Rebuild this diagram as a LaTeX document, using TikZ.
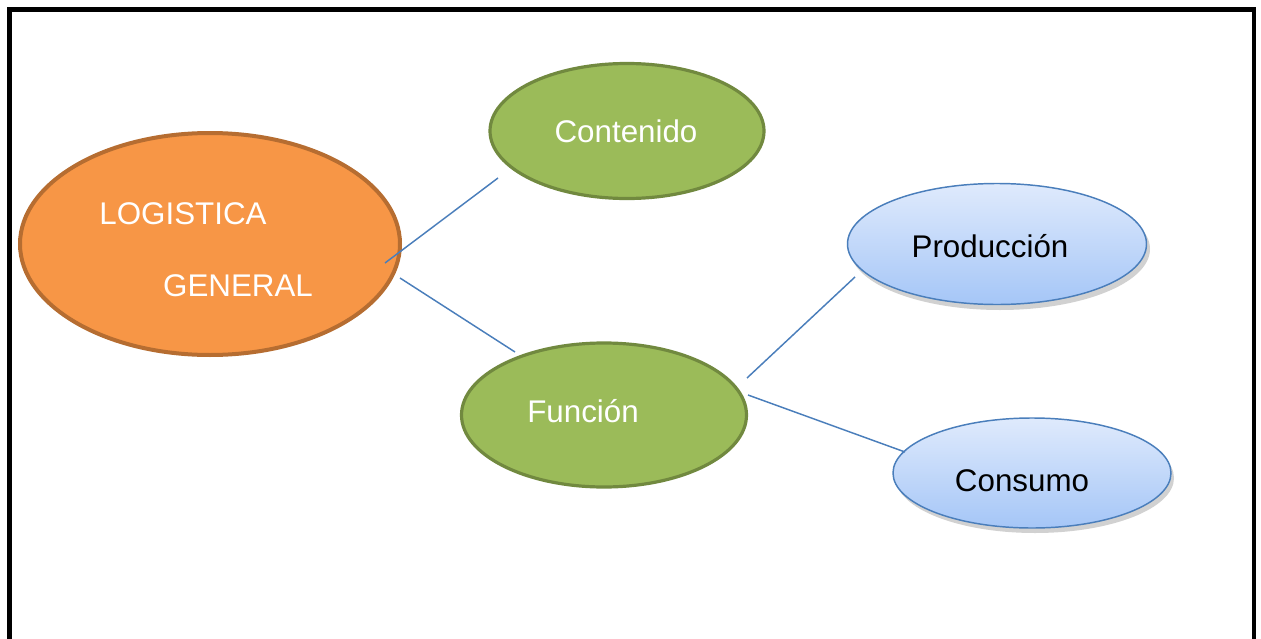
\documentclass[tikz,border=0pt]{standalone}
\usepackage{fontspec}
\setmainfont{Liberation Sans}
\usetikzlibrary{shapes.geometric}
\definecolor{orfill}{HTML}{F79646}
\definecolor{ordraw}{HTML}{B66D31}
\definecolor{grfill}{HTML}{9BBB59}
\definecolor{grdraw}{HTML}{71893F}
\definecolor{bltop}{HTML}{DFEAFC}
\definecolor{blbot}{HTML}{A5C6F7}
\definecolor{bldraw}{HTML}{4A7EBB}
\definecolor{conn}{HTML}{4A7EBB}
\tikzset{
  every node/.style={inner sep=0pt},
  txt/.style={font=\fontsize{23.5}{28}\selectfont},
  orangeell/.style={ellipse, fill=orfill, draw=ordraw, line width=3pt},
  greenell/.style={ellipse, fill=grfill, draw=grdraw, line width=2.4pt},
  blueell/.style={ellipse, top color=bltop, bottom color=blbot, draw=bldraw, line width=1.1pt},
  shadowell/.style={ellipse, fill=black, opacity=0.18},
  link/.style={draw=conn, line width=1.1pt}
}
\begin{document}
\begin{tikzpicture}[x=0.75pt, y=-0.75pt]
\useasboundingbox (0,0) rectangle (1261,639);
\draw[line width=3.2pt, black] (9.5,660) -- (9.5,9.5) -- (1254,9.5) -- (1254,660);
% shadows
\node[shadowell, minimum width=300*0.75pt, minimum height=122*0.75pt] at (1000,249) {};
\node[shadowell, minimum width=278*0.75pt, minimum height=110*0.75pt] at (1035,478) {};
% ellipses
\node[orangeell, minimum width=380*0.75pt, minimum height=222*0.75pt] (log) at (210,244) {};
\node[greenell, minimum width=274*0.75pt, minimum height=135*0.75pt] (cont) at (627,131) {};
\node[greenell, minimum width=285*0.75pt, minimum height=144*0.75pt] (func) at (604,415) {};
\node[blueell, minimum width=299*0.75pt, minimum height=121*0.75pt] (prod) at (997,244) {};
\node[blueell, minimum width=278*0.75pt, minimum height=110*0.75pt] (cons) at (1032,473) {};
% texts
\node[txt, text=white] (t1) at (183,214) {LOGISTICA};
\node[txt, text=white] (t2) at (238,286) {GENERAL};
\node[txt, text=white] (t3) at (626,131) {Contenido};
\node[txt, text=white] (t4) at (583,411) {Función};
\node[txt, text=black] (t5) at (990,246) {Producción};
\node[txt, text=black] (t6) at (1022,481) {Consumo};
% connector end points
\coordinate (a1) at (385,263);
\coordinate (a2) at (498,178);
\coordinate (b1) at (400,278);
\coordinate (b2) at (515,352);
\coordinate (c1) at (747,378);
\coordinate (c2) at (855,277);
\coordinate (d1) at (748,395);
\coordinate (d2) at (905,452);
\draw[link] (a1) -- (a2);
\draw[link] (b1) -- (b2);
\draw[link] (c1) -- (c2);
\draw[link] (d1) -- (d2);
\end{tikzpicture}
\end{document}
